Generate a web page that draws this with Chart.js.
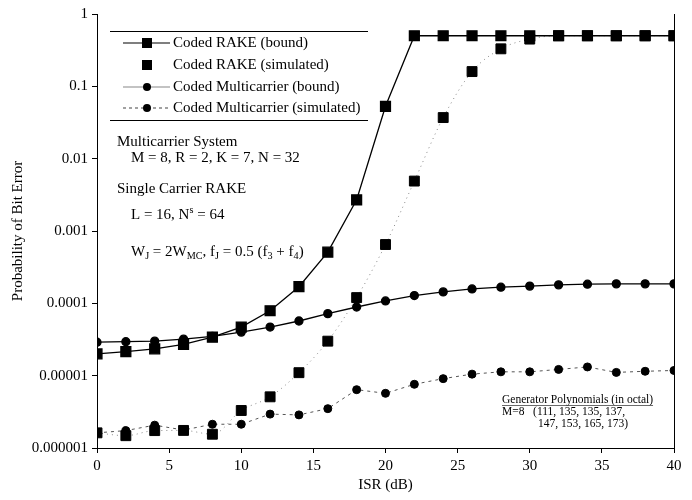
<!DOCTYPE html>
<html>
<head>
<meta charset="utf-8">
<title>Probability of Bit Error vs ISR</title>
<script src="https://cdn.jsdelivr.net/npm/chart.js@4.4.1/dist/chart.umd.min.js"></script>
<style>
    html, body { margin: 0; padding: 0; background: #fff; }
</style>
</head>
<body>
<canvas id="berChart" width="692" height="500"></canvas>
<script>
// ISR values (dB) shared by every curve
const isr = [0, 2, 4, 6, 8, 10, 12, 14, 16, 18, 20, 22, 24, 26, 28, 30, 32, 34, 36, 38, 40];

const rakeBound = [2.0e-5, 2.15e-5, 2.35e-5, 2.7e-5, 3.4e-5, 4.7e-5, 7.9e-5, 1.7e-4, 5.1e-4, 2.7e-3,
    0.053, 0.5, 0.5, 0.5, 0.5, 0.5, 0.5, 0.5, 0.5, 0.5, 0.5];
const rakeSim = [1.62e-6, 1.48e-6, 1.74e-6, 1.75e-6, 1.55e-6, 3.3e-6, 5.1e-6, 1.1e-5, 3.0e-5, 1.2e-4,
    6.5e-4, 4.9e-3, 0.037, 0.16, 0.33, 0.45, 0.5, 0.5, 0.5, 0.5, 0.5];
const mcBound = [2.9e-5, 2.95e-5, 3.0e-5, 3.2e-5, 3.5e-5, 4.0e-5, 4.7e-5, 5.7e-5, 7.2e-5, 8.9e-5,
    1.08e-4, 1.28e-4, 1.44e-4, 1.58e-4, 1.67e-4, 1.73e-4, 1.8e-4, 1.84e-4, 1.86e-4, 1.86e-4, 1.86e-4];
const mcSim = [1.62e-6, 1.74e-6, 2.07e-6, 1.77e-6, 2.13e-6, 2.13e-6, 2.94e-6, 2.87e-6, 3.5e-6, 6.4e-6,
    5.7e-6, 7.6e-6, 9.1e-6, 1.05e-5, 1.13e-5, 1.13e-5, 1.22e-5, 1.32e-5, 1.11e-5, 1.15e-5, 1.18e-5];

const yTickValues = [1e-6, 1e-5, 1e-4, 1e-3, 1e-2, 1e-1, 1];
const yTickLabels = ['0.000001', '0.00001', '0.0001', '0.001', '0.01', '0.1', '1'];

const seriesNames = ['Coded RAKE (bound)', 'Coded RAKE (simulated)', 'Coded Multicarrier (bound)', 'Coded Multicarrier (simulated)'];

const SERIF = '"Liberation Serif", "Times New Roman", serif';

function pairs(values) {
    return isr.map((x, i) => ({ x: x, y: values[i] }));
}

// draw text with sub/superscripts, parts = [[text, 'sub'|'sup'|undefined], ...]
function drawRich(ctx, x, y, parts, size) {
    parts.forEach(([t, kind]) => {
        const s = kind ? size * 0.68 : size;
        const dy = kind === 'sub' ? size * 0.28 : kind === 'sup' ? -size * 0.32 : 0;
        ctx.font = s + 'px ' + SERIF;
        ctx.fillText(t, x, y + dy);
        x += ctx.measureText(t).width;
    });
}

const extras = {
    id: 'extras',
    afterDatasetsDraw(chart) {
        const ctx = chart.ctx;
        const area = chart.chartArea;
        ctx.save();

        // right frame line
        ctx.strokeStyle = '#000';
        ctx.lineWidth = 1;
        ctx.beginPath();
        ctx.moveTo(area.right + 0.5, area.top);
        ctx.lineTo(area.right + 0.5, area.bottom);
        ctx.stroke();

        // legend box rules
        ctx.beginPath();
        ctx.moveTo(110, 31.5); ctx.lineTo(368, 31.5);
        ctx.moveTo(110, 120.5); ctx.lineTo(368, 120.5);
        ctx.stroke();

        const rows = [43, 65, 87, 108];
        const lineStyle = [
            { color: '#000', dash: [], on: true },
            { on: false },
            { color: '#888', dash: [], on: true },
            { color: '#444', dash: [3, 3], on: true }
        ];
        rows.forEach((y, i) => {
            const st = lineStyle[i];
            if (st.on) {
                ctx.strokeStyle = st.color;
                ctx.setLineDash(st.dash);
                ctx.lineWidth = 1.2;
                ctx.beginPath();
                ctx.moveTo(123, y); ctx.lineTo(170, y);
                ctx.stroke();
                ctx.setLineDash([]);
            }
            ctx.fillStyle = '#000';
            ctx.beginPath();
            if (i < 2) {
                ctx.rect(142, y - 5, 10, 10);
            } else {
                ctx.arc(147, y, 4, 0, Math.PI * 2);
            }
            ctx.fill();
            ctx.font = '15px ' + SERIF;
            ctx.textBaseline = 'middle';
            ctx.textAlign = 'left';
            ctx.fillText(seriesNames[i], 173, y);
        });

        // system annotations
        ctx.fillStyle = '#000';
        ctx.textBaseline = 'middle';
        ctx.font = '15px ' + SERIF;
        ctx.fillText('Multicarrier System', 117, 142);
        ctx.fillText('M = 8, R = 2, K = 7, N = 32', 131, 158);
        ctx.fillText('Single Carrier RAKE', 117, 189);
        drawRich(ctx, 131, 215, [['L = 16, N'], ['s', 'sup'], [' = 64']], 15);
        drawRich(ctx, 131, 252, [['W'], ['J', 'sub'], [' = 2W'], ['MC', 'sub'], [', f'], ['J', 'sub'],
            [' = 0.5 (f'], ['3', 'sub'], [' + f'], ['4', 'sub'], [')']], 15);

        // generator polynomials note
        ctx.font = '11.5px ' + SERIF;
        const head = 'Generator Polynomials (in octal)';
        ctx.fillText(head, 502, 400);
        const w = ctx.measureText(head).width;
        ctx.lineWidth = 0.8;
        ctx.beginPath();
        ctx.moveTo(502, 405.5); ctx.lineTo(502 + w, 405.5);
        ctx.stroke();
        ctx.fillText('M=8   (111, 135, 135, 137,', 502, 412);
        ctx.fillText('147, 153, 165, 173)', 538, 424);

        ctx.restore();
    }
};

const ctx = document.getElementById('berChart').getContext('2d');
const berChart = new Chart(ctx, {
    type: 'line',
    data: {
        datasets: [
            {
                label: seriesNames[0],
                data: pairs(rakeBound),
                borderColor: '#000',
                backgroundColor: '#000',
                borderWidth: 1.3,
                pointStyle: 'rect',
                pointRadius: 7,
                tension: 0
            },
            {
                label: seriesNames[1],
                data: pairs(rakeSim),
                borderColor: '#888',
                backgroundColor: '#000',
                borderWidth: 1,
                borderDash: [1, 4],
                pointStyle: 'rect',
                pointRadius: 7,
                pointBorderColor: '#000',
                cubicInterpolationMode: 'monotone'
            },
            {
                label: seriesNames[2],
                data: pairs(mcBound),
                borderColor: '#000',
                backgroundColor: '#000',
                borderWidth: 1.3,
                pointStyle: 'circle',
                pointRadius: 4,
                tension: 0
            },
            {
                label: seriesNames[3],
                data: pairs(mcSim),
                borderColor: '#555',
                backgroundColor: '#000',
                borderWidth: 1,
                borderDash: [3, 4],
                pointStyle: 'circle',
                pointRadius: 4,
                pointBorderColor: '#000',
                tension: 0
            }
        ]
    },
    options: {
        responsive: false,
        animation: false,
        layout: { padding: { top: 14, right: 18, left: 0, bottom: 0 } },
        plugins: {
            legend: { display: false },
            tooltip: { enabled: false }
        },
        scales: {
            x: {
                type: 'linear',
                min: 0,
                max: 40,
                ticks: {
                    stepSize: 5,
                    color: '#000',
                    padding: 4,
                    maxRotation: 0,
                    font: { family: SERIF, size: 15 }
                },
                grid: { drawOnChartArea: false, drawTicks: true, tickLength: 5, color: '#000' },
                border: { display: true, color: '#000', width: 1 },
                title: {
                    display: true,
                    text: 'ISR (dB)',
                    color: '#000',
                    font: { family: SERIF, size: 15 },
                    padding: { top: 0, bottom: 6 }
                },
                afterFit(scale) { scale.height = 52; }
            },
            y: {
                type: 'logarithmic',
                min: 1e-6,
                max: 1,
                afterBuildTicks(scale) {
                    scale.ticks = yTickValues.map(v => ({ value: v }));
                },
                ticks: {
                    color: '#000',
                    padding: 4,
                    font: { family: SERIF, size: 15 },
                    callback: (value, index) => yTickLabels[index]
                },
                grid: { drawOnChartArea: false, drawTicks: true, tickLength: 5, color: '#000' },
                border: { display: true, color: '#000', width: 1 },
                title: {
                    display: true,
                    text: 'Probability of Bit Error',
                    color: '#000',
                    font: { family: SERIF, size: 15 },
                    padding: { top: 9, bottom: 0 }
                },
                afterFit(scale) { scale.width = 97; }
            }
        }
    },
    plugins: [extras]
});
</script>
</body>
</html>
